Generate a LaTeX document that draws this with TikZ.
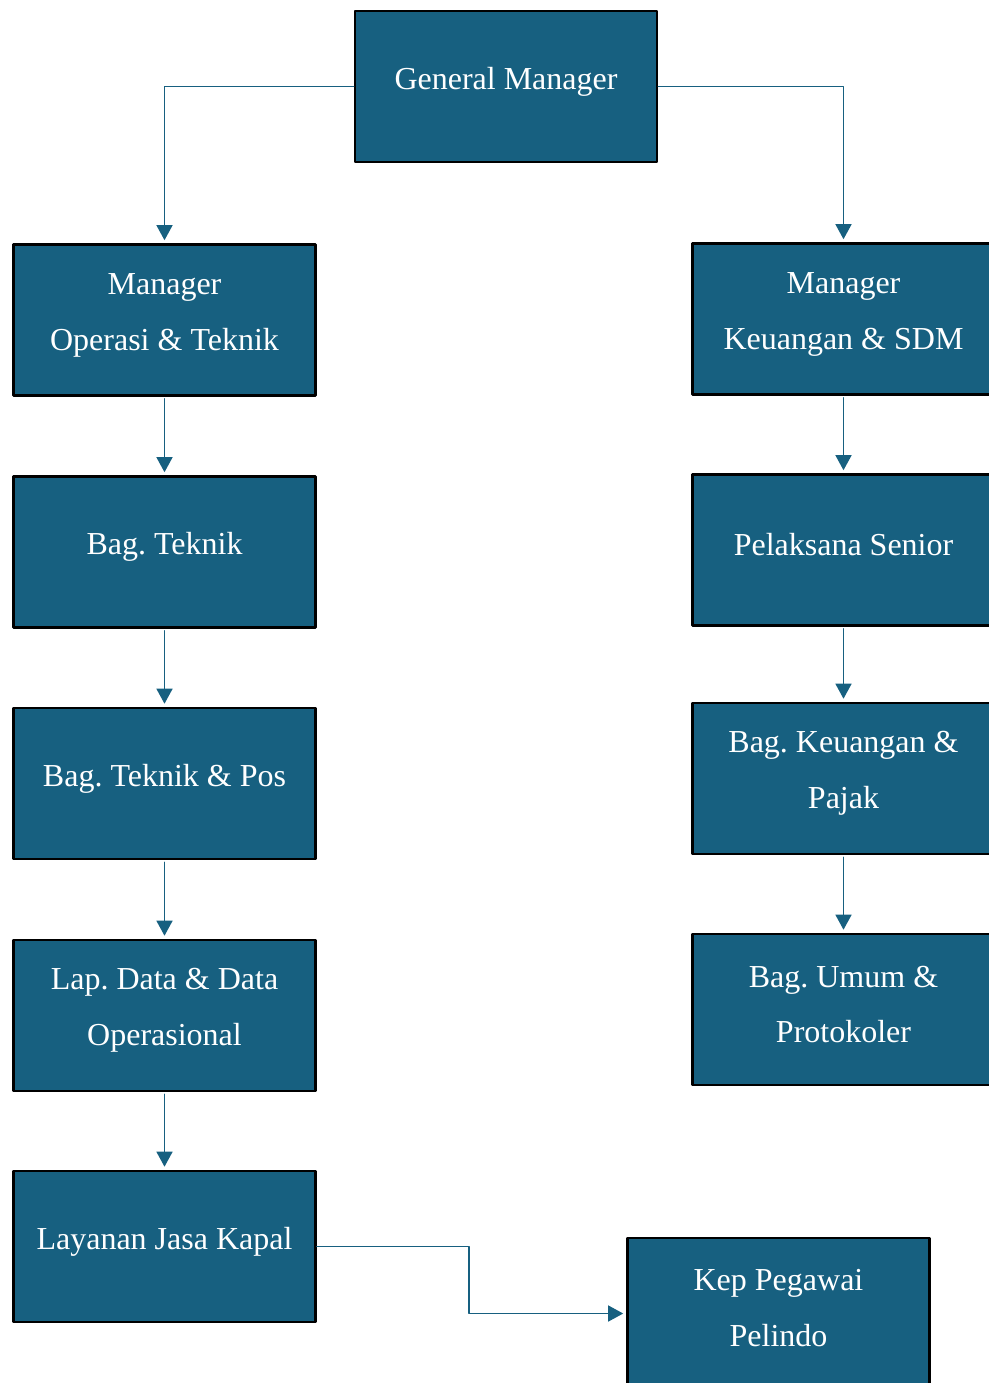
\documentclass[tikz,border=0pt]{standalone}
\usepackage{fontspec}
\setmainfont{Liberation Serif}
\frenchspacing
\usetikzlibrary{arrows.meta}
\definecolor{teal}{RGB}{23,96,128}
\tikzset{
  box/.style={draw=black,line width=1.3pt,fill=teal,minimum width=151pt,minimum height=75.5pt,
    inner sep=0pt,label={[text=white,align=center,font=\fontsize{16}{28}\selectfont,yshift=2.5pt]center:#1}},
  link/.style={draw=teal,line width=0.7pt,-{Triangle[length=7.5pt,width=8pt]},shorten >=1.5pt}
}
\begin{document}
\begin{tikzpicture}[x=0.5pt,y=-0.5pt,line cap=round,line join=round]
\useasboundingbox (0,0) rectangle (989,1383);
\node[box={General Manager}] (gm) at (506,86.5) {};
% left column
\node[box={Manager\\Operasi \& Teknik}] (opt) at (164.5,320) {};
\node[box={Bag. Teknik}] (tek) at (164.5,552) {};
\node[box={Bag. Teknik \& Pos}] (pos) at (164.5,783.5) {};
\node[box={Lap. Data \& Data\\Operasional}] (lap) at (164.5,1015.5) {};
\node[box={Layanan Jasa Kapal}] (lay) at (164.5,1246.5) {};
% right column
\node[box={Manager\\Keuangan \& SDM}] (keu) at (843.5,319) {};
\node[box={Pelaksana Senior}] (pel) at (843.5,550) {};
\node[box={Bag. Keuangan \&\\Pajak}] (paj) at (843.5,778.5) {};
\node[box={Bag. Umum \&\\Protokoler}] (umum) at (843.5,1009.5) {};
\node[box={Kep Pegawai\\Pelindo}] (kep) at (778.5,1313.5) {};
% connectors
\draw[link] (gm.west) -| (opt.north);
\draw[link] (gm.east) -| (keu.north);
\foreach \a/\b in {opt/tek,tek/pos,pos/lap,lap/lay,keu/pel,pel/paj,paj/umum}
  \draw[link,shorten <=1pt] (\a.south) -- (\b.north);
\coordinate (bend) at (469,1280);
\draw[link] (lay.east) -| (bend) |- (kep.west);
\end{tikzpicture}
\end{document}
